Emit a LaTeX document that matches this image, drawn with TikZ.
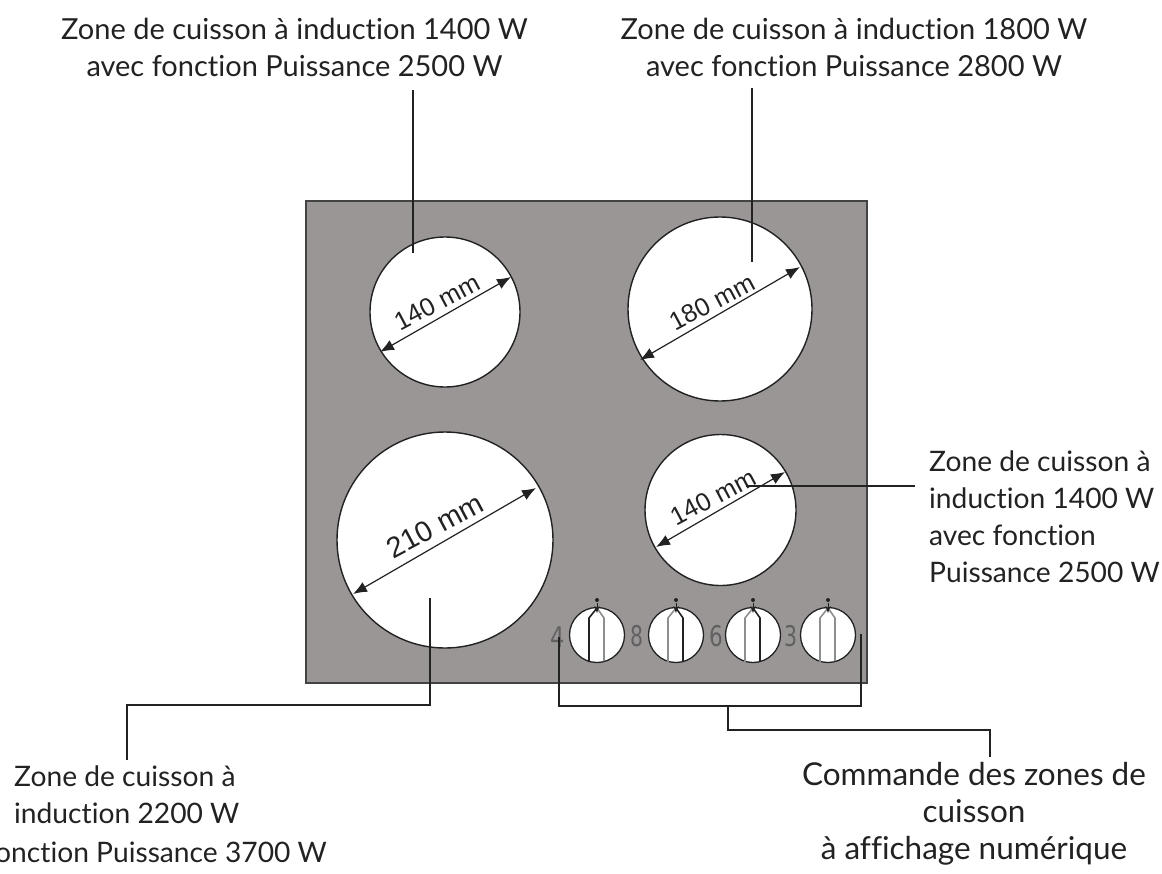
\documentclass[tikz,border=0pt]{standalone}
\usepackage{graphicx}
\usepackage{fontspec}
\setmainfont{Lato}[Ligatures=NoCommon]
\newfontfamily\dimfont{Liberation Sans}
\newfontfamily\digfont{DejaVu Sans}
\usetikzlibrary{arrows.meta,calc}
\definecolor{panelgrey}{HTML}{9A9696}
\definecolor{inkdark}{HTML}{222222}
\definecolor{knobgrey}{HTML}{8E8E8E}
\tikzset{
  x=1pt,y=-1pt,
  panel/.style={draw=inkdark!85,line width=1.4pt,fill=panelgrey,minimum width=561pt,minimum height=482pt,inner sep=0pt},
  zone/.style={circle,draw=inkdark,line width=1.4pt,fill=white,inner sep=0pt,minimum size=#1},
  knob/.style={circle,draw=inkdark,line width=1.3pt,fill=white,inner sep=0pt,minimum size=55pt},
  lead/.style={draw=inkdark,line width=1.5pt},
  dimline/.style={draw=inkdark,line width=1.2pt,{Latex[length=14pt,width=11pt]}-{Latex[length=14pt,width=11pt]}},
  dimlabel/.style={font=\dimfont\fontsize{25.5}{25.5}\selectfont,text=inkdark,rotate=28,inner sep=0pt},
  callout/.style={font=\fontsize{29}{37}\selectfont,text=inkdark,align=center,inner sep=0pt},
  callsmall/.style={callout,font=\fontsize{28.2}{37}\selectfont},
  calllarge/.style={callout,font=\fontsize{31.5}{37}\selectfont},
  digit/.style={font=\digfont\fontsize{30}{30}\selectfont,text=black!62,inner sep=0pt},
  darkside/.style={draw=inkdark,line width=1.6pt},
  lightside/.style={draw=knobgrey,line width=1.6pt},
  dot/.style={circle,fill=inkdark,inner sep=0pt,minimum size=4pt},
}
\newcommand{\knobmarks}[3]{% name, left style, right style
  \draw[#2] ($(#1)+(-8,27)$) -- ($(#1)+(-8,-17)$) -- ($(#1)+(0,-27)$);
  \draw[#3] ($(#1)+(7,26)$) -- ($(#1)+(7,-17)$) -- ($(#1)+(0,-27)$);
  \node[dot] (#1dot) at ($(#1)+(0,-35)$) {};
  \draw[draw=inkdark,line width=1pt,-{Stealth[length=7pt,width=5pt]}] ($(#1)+(0,-32)$) -- ($(#1)+(0,-22)$);
}
\begin{document}
\begin{tikzpicture}
\useasboundingbox (0,0) rectangle (1162,873);
\node[panel] (hob) at (586.5,442) {};
\node[zone=150pt] (zTL) at (445,312) {};
\node[zone=184pt] (zTR) at (720,309) {};
\node[zone=216pt] (zBL) at (445,540) {};
\node[zone=151pt] (zBR) at (720.5,510) {};
% dimension arrows
\coordinate (aTLa) at (380,352); \coordinate (aTLb) at (511,277);
\coordinate (aTRa) at (640,360); \coordinate (aTRb) at (800,267);
\coordinate (aBLa) at (353,594); \coordinate (aBLb) at (536,488);
\coordinate (aBRa) at (656,547); \coordinate (aBRb) at (785,472);
\draw[dimline] (aTLa) -- (aTLb);
\draw[dimline] (aTRa) -- (aTRb);
\draw[dimline] (aBLa) -- (aBLb);
\draw[dimline] (aBRa) -- (aBRb);
\node[dimlabel] (dTL) at (437,302) {140 mm};
\node[dimlabel] (dTR) at (712,302) {180 mm};
\node[dimlabel,font=\dimfont\fontsize{29}{29}\selectfont] (dBL) at (435,526) {210 mm};
\node[dimlabel] (dBR) at (713,497) {140 mm};
% knobs
\node[knob] (k1) at (597,635) {};
\node[knob] (k2) at (676,635) {};
\node[knob] (k3) at (753,635) {};
\node[knob] (k4) at (828,635) {};
\knobmarks{k1}{darkside}{lightside}
\knobmarks{k2}{lightside}{darkside}
\knobmarks{k3}{lightside}{darkside}
\knobmarks{k4}{lightside}{lightside}
\node[digit] (d4) at (558,637) {\scalebox{.75}[.95]{4}};
\node[digit] (d8) at (637,636) {\scalebox{.68}[.95]{8}};
\node[digit] (d6) at (716,636) {\scalebox{.72}[.95]{6}};
\node[digit] (d3) at (791,636) {\scalebox{.68}[.95]{3}};
% callouts
\node[callout] (tTL) at (294.5,47) {Zone de cuisson à induction 1400 W\\avec fonction Puissance 2500 W};
\node[callout] (tTR) at (854,47) {Zone de cuisson à induction 1800 W\\avec fonction Puissance 2800 W};
\node[callsmall,align=left,anchor=north west] (tBR) at (929,451) {Zone de cuisson à\\induction 1400 W\\avec fonction\\Puissance 2500 W};
\node[callsmall,align=left,anchor=north west] (tBL) at (14,766) {Zone de cuisson à\\induction 2200 W};
\node[callsmall,anchor=east] (tBLc) at (327,852) {fonction Puissance 3700 W};
\node[calllarge] (tC) at (974,814) {Commande des zones de\\cuisson\\à affichage numérique};
% leaders
\coordinate (lTLt) at (413,90); \coordinate (lTLb) at (413,253);
\coordinate (lTRt) at (752,88); \coordinate (lTRb) at (752,262);
\coordinate (lBRa) at (746,486); \coordinate (lBRb) at (915,486);
\coordinate (lBLa) at (430,598); \coordinate (lBLb) at (127,760);
\coordinate (lKl) at (559,637); \coordinate (lKr) at (861,634);
\coordinate (lKm) at (728,706); \coordinate (lKe) at (990,757);
\draw[lead] (lTLt) -- (lTLb);
\draw[lead] (lTRt) -- (lTRb);
\draw[lead] (lBRa) -- (lBRb);
\draw[lead] (lBLa) -- (430,705) -| (lBLb);
\draw[lead] (lKl) -- (559,706) -- (861,706) -- (lKr);
\draw[lead] (lKm) -- (728,730) -| (lKe);
\end{tikzpicture}
\end{document}
